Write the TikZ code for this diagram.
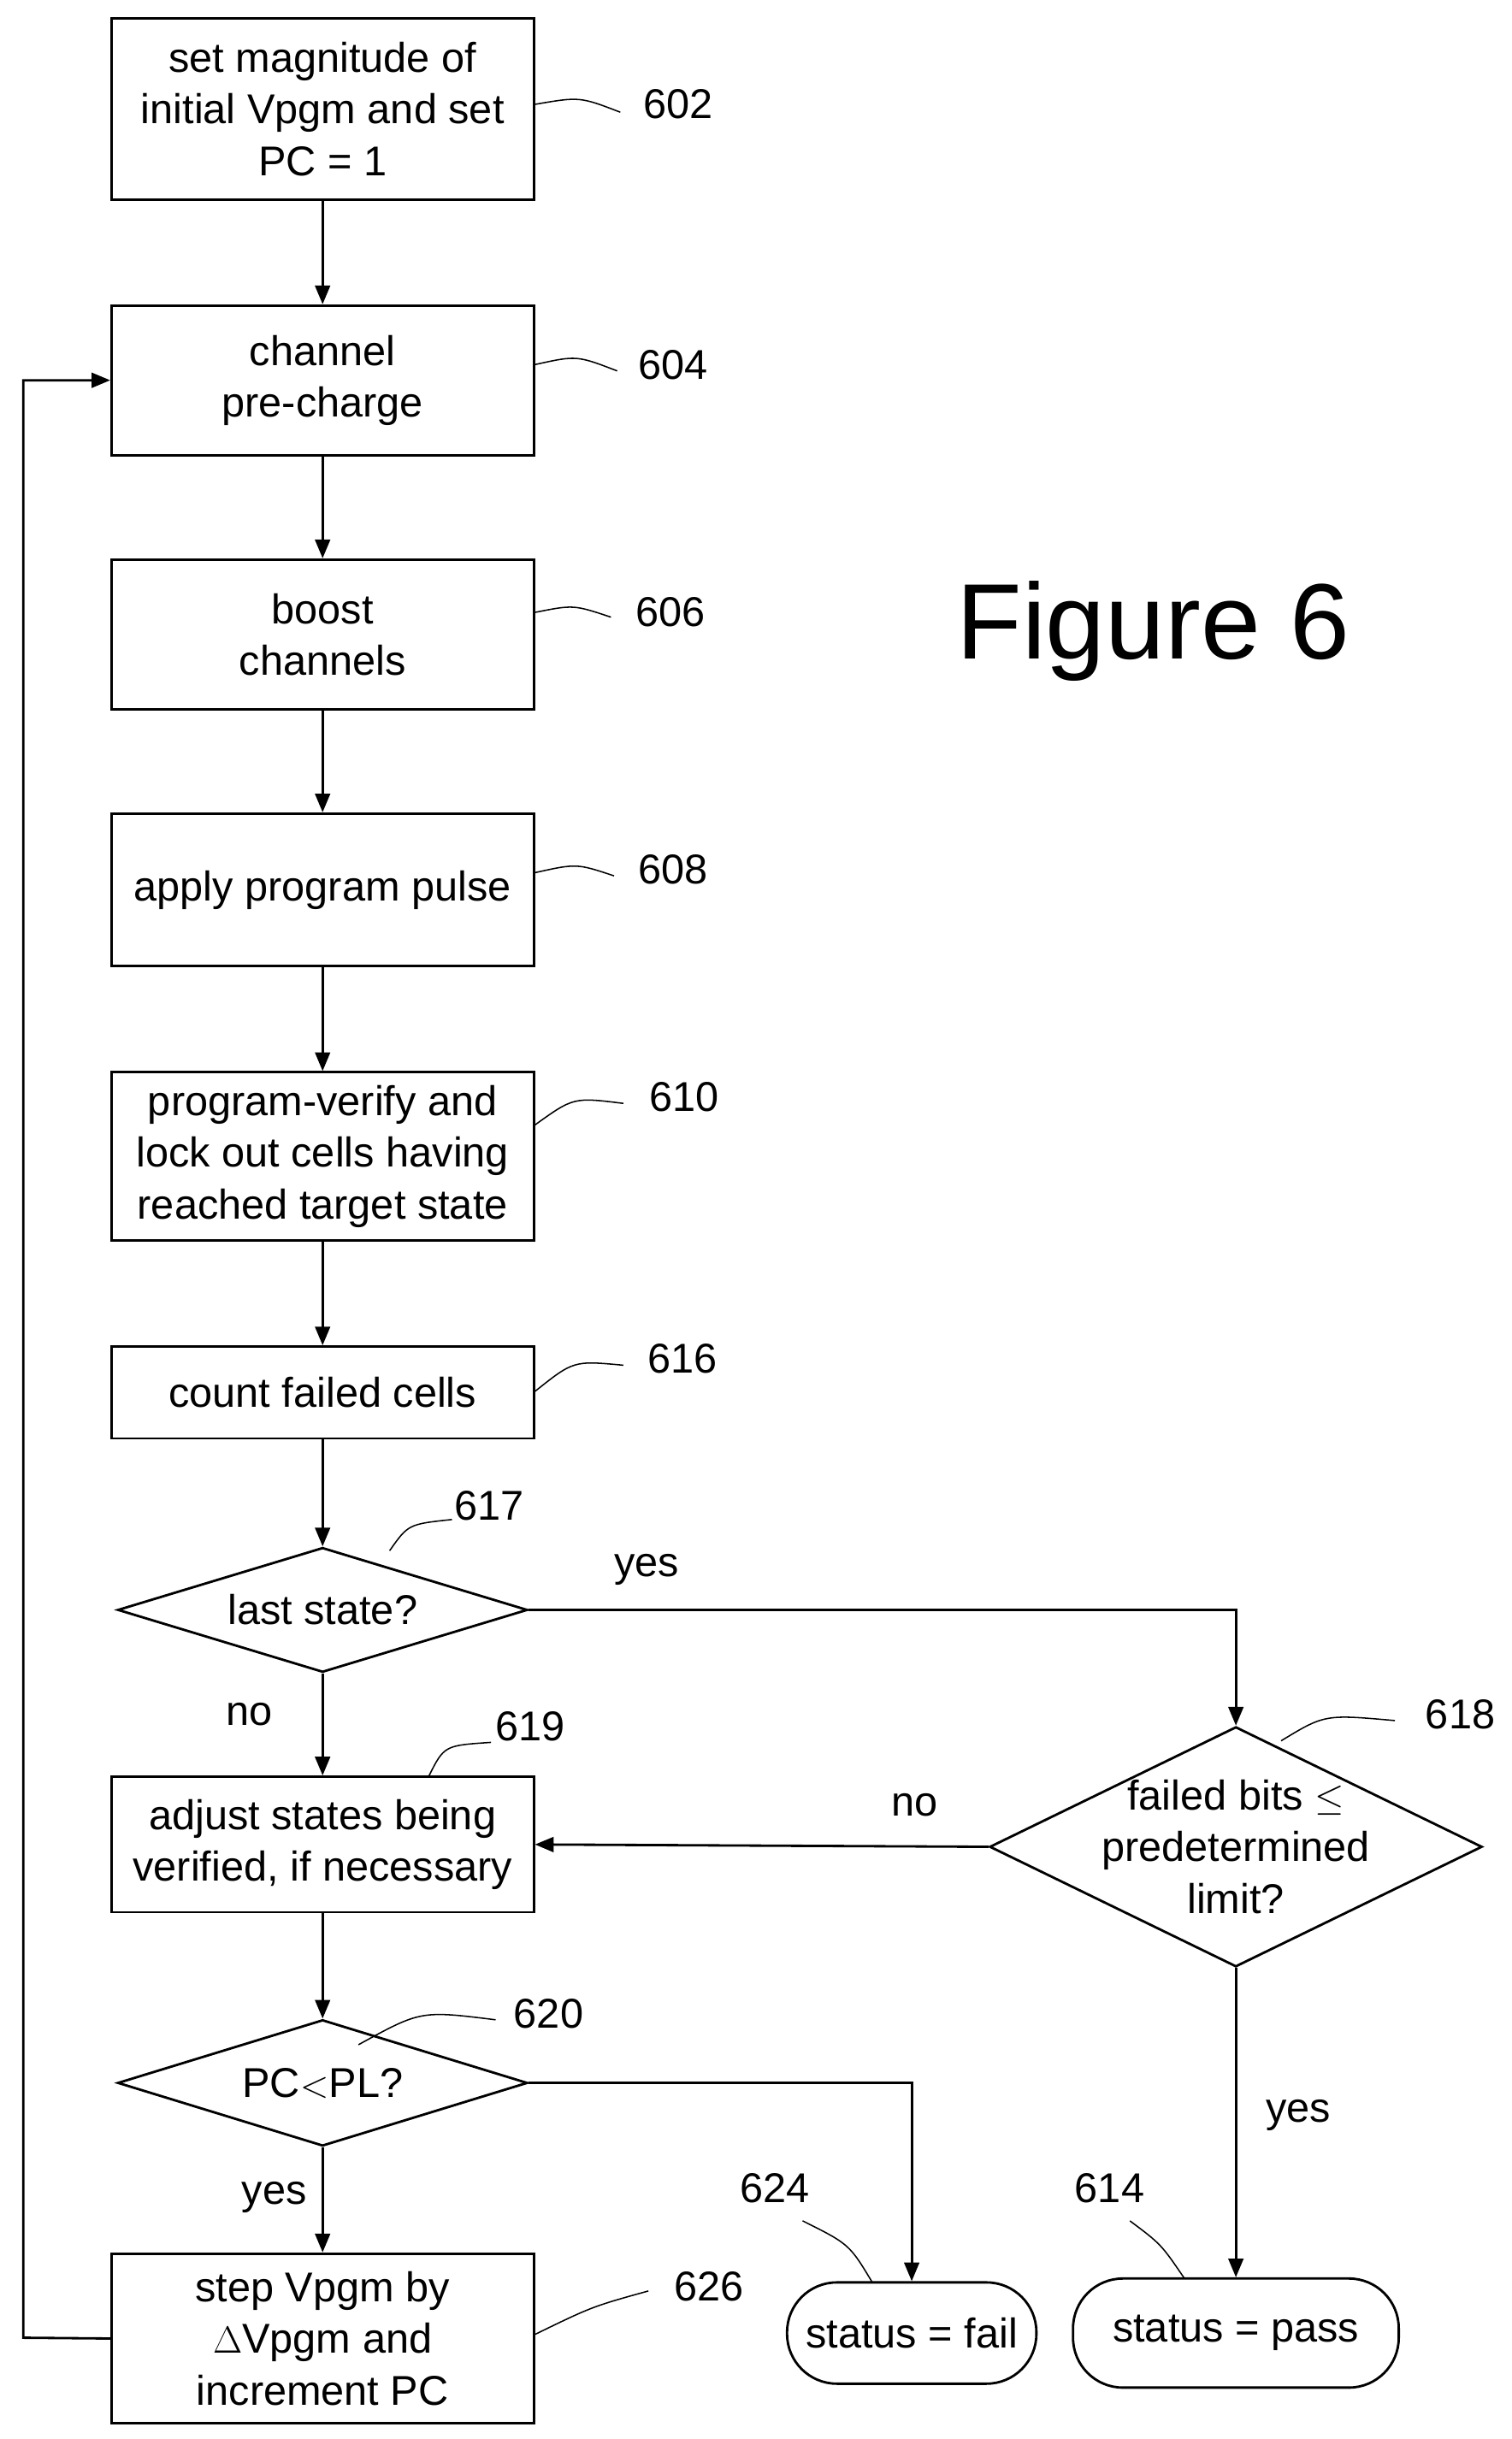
\documentclass[tikz,border=0pt]{standalone}
\usepackage{fontspec}
\setmainfont{Liberation Sans}
\usetikzlibrary{shapes.geometric,arrows.meta}
\begin{document}
\begin{tikzpicture}[x=0.25mm,y=-0.25mm,
  box/.style={draw,line width=1.1pt,minimum width=67.75mm,align=center,inner sep=0pt,font=\fontsize{19}{23.5}\selectfont},
  dia/.style={draw,line width=1.1pt,diamond,aspect=3.3,inner sep=0pt,align=center,font=\fontsize{19}{23.5}\selectfont},
  term/.style={draw,line width=1.1pt,rounded corners=8mm,align=center,font=\fontsize{19}{23.5}\selectfont},
  flow/.style={line width=1.1pt,-{Triangle[length=3mm,width=2.4mm]}},
  lead/.style={line width=0.6pt},
  lbl/.style={font=\fontsize{19}{23.5}\selectfont}]
\useasboundingbox (0,0) rectangle (970,1565);
% boxes
\node[box,minimum height=29mm] (s602) at (207,70) {set magnitude of\\initial Vpgm and set\\PC = 1};
\node[box,minimum height=24mm] (s604) at (207,244) {channel\\pre-charge};
\node[box,minimum height=24mm] (s606) at (207,407) {boost\\channels};
\node[box,minimum height=24.5mm] (s608) at (207,571) {apply program pulse};
\node[box,minimum height=27mm] (s610) at (207,742) {program-verify and\\lock out cells having\\reached target state};
\node[box,minimum height=14.75mm] (s616) at (207,893.5) {count failed cells};
\node[dia,minimum width=65.75mm,minimum height=20mm] (s617) at (207,1033) {last state?};
\node[box,minimum height=21.75mm] (s619) at (207,1183.5) {adjust states being\\verified, if necessary};
\node[dia,minimum width=65.75mm,minimum height=20.25mm] (s620) at (207,1336.5) {PC$<$PL?};
\node[box,minimum height=27.25mm] (s626) at (207,1500.5) {step Vpgm by\\$\Delta$Vpgm and\\increment PC};
\node[dia,aspect=2.05,minimum width=79mm,minimum height=38.5mm] (s618) at (793,1185) {};
\node[lbl,align=center] (t618) at (s618) {failed bits $\leq$\\predetermined\\limit?};
\node[term,minimum width=40mm,minimum height=16.25mm] (s624) at (585,1497) {status = fail};
\node[term,minimum width=52.25mm,minimum height=17.5mm] (s614) at (793,1497) {status = pass};
\node[font=\fontsize{49}{58}\selectfont] (fig) at (740,405) {Figure 6};
% connectors
\draw[flow] (s602) -- (s604);
\draw[flow] (s604) -- (s606);
\draw[flow] (s606) -- (s608);
\draw[flow] (s608) -- (s610);
\draw[flow] (s610) -- (s616);
\draw[flow] (s616) -- (s617);
\draw[flow] (s617.east) -| (s618.north);
\draw[flow] (s617) -- (s619);
\draw[flow] (s618.west) -- (s619.east);
\draw[flow] (s618.south) -- (s614.north);
\draw[flow] (s619) -- (s620);
\draw[flow] (s620.east) -| (s624.north);
\draw[flow] (s620) -- (s626);
\draw[flow] (s626.west) -- (15,1500) |- (s604.west);
\node[lbl] at (415,1007) {yes};
\node[lbl] at (160,1100) {no};
\node[lbl] at (587,1158) {no};
\node[lbl] at (833,1357) {yes};
\node[lbl] at (176,1410) {yes};
% reference numbers
\foreach \n/\p/\a/\b/\c in {602/{(435,67)}/{(343,67)}/{(372,62)}/{(398,72)},
  604/{(432,234)}/{(343,234)}/{(370,228)}/{(396,238)},
  606/{(430,393)}/{(343,393)}/{(368,388)}/{(392,396)},
  608/{(432,558)}/{(343,560)}/{(370,554)}/{(394,562)},
  610/{(439,704)}/{(343,722)}/{(368,704)}/{(400,708)},
  616/{(438,872)}/{(343,893)}/{(368,873)}/{(400,876)},
  626/{(455,1467)}/{(343,1498)}/{(380,1480)}/{(416,1470)},
  617/{(314,966)}/{(250,995)}/{(262,978)}/{(290,975)},
  619/{(340,1108)}/{(275,1140)}/{(285,1120)}/{(315,1118)},
  620/{(352,1292)}/{(230,1312)}/{(270,1290)}/{(318,1296)},
  618/{(937,1100)}/{(822,1117)}/{(850,1100)}/{(895,1104)},
  624/{(497,1404)}/{(560,1465)}/{(545,1440)}/{(515,1425)},
  614/{(712,1404)}/{(760,1462)}/{(745,1440)}/{(725,1425)}}
  {\node[lbl] (n\n) at \p {\n};
   \draw[lead] \a .. controls \b .. \c;}
\end{tikzpicture}
\end{document}
